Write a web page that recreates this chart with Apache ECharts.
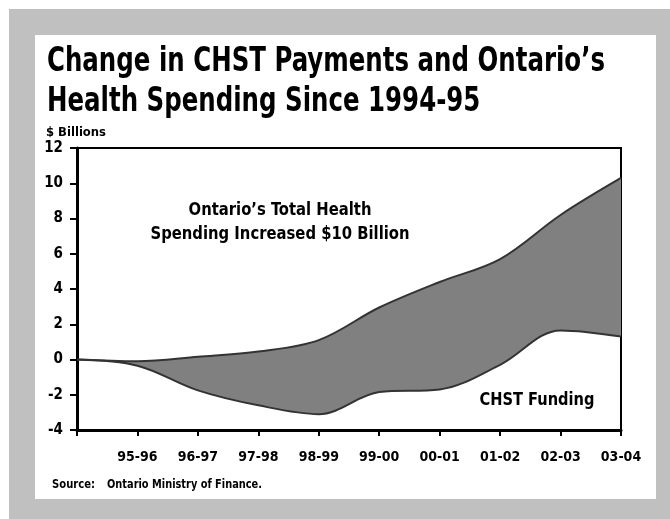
<!DOCTYPE html>
<html>
<head>
<meta charset="utf-8">
<script src="https://cdn.jsdelivr.net/npm/echarts@6/dist/echarts.min.js"></script>
<style>
  html, body { margin: 0; padding: 0; background: #ffffff; }
  #chart { width: 670px; height: 519px; }
</style>
</head>
<body>
<div id="chart"></div>
<script>
var categories = ['94-95', '95-96', '96-97', '97-98', '98-99', '99-00', '00-01', '01-02', '02-03', '03-04'];
var totalHealthChange = [0, -0.1, 0.15, 0.45, 1.1, 2.95, 4.4, 5.7, 8.2, 10.3];
var chstChange = [0, -0.35, -1.75, -2.6, -3.1, -1.85, -1.7, -0.3, 1.65, 1.3];
var yTicks = { min: -4, max: 12, interval: 2 };

var FONT = "'DejaVu Sans Condensed', 'Liberation Sans Narrow', sans-serif";
var gap = totalHealthChange.map(function (v, i) { return +(v - chstChange[i]).toFixed(3); });

var measureCtx = document.createElement('canvas').getContext('2d');
function fitScale(text, font, targetWidth) {
  measureCtx.font = font;
  var w = 0;
  text.split('\n').forEach(function (line) { w = Math.max(w, measureCtx.measureText(line).width); });
  return w > 0 ? targetWidth / w : 1;
}
function fittedText(text, font, targetWidth, x, y, extra) {
  var s = fitScale(text, font, targetWidth);
  var style = { text: text, font: font, fill: '#000' };
  if (extra) { for (var k in extra) style[k] = extra[k]; }
  return { type: 'text', x: x, y: y, scaleX: s, scaleY: 1, style: style };
}

var titleText = 'Change in CHST Payments and Ontario\u2019s\nHealth Spending Since 1994-95';
var titleFont = 'bold 34px ' + FONT;
var noteText = 'Ontario\u2019s Total Health\nSpending Increased $10 Billion';
var noteFont = 'bold 18px ' + FONT;
var smallFont = 'bold 12px ' + FONT;

var chart = echarts.init(document.getElementById('chart'), null, { renderer: 'canvas' });
chart.setOption({
  animation: false,
  backgroundColor: '#ffffff',
  graphic: [
    { type: 'rect', z: -10, shape: { x: 9, y: 9, width: 661, height: 510 }, style: { fill: '#c0c0c0' } },
    { type: 'rect', z: -9, shape: { x: 35, y: 35, width: 621, height: 464 }, style: { fill: '#ffffff' } },
    fittedText(titleText, titleFont, 558, 47, 42, { lineHeight: 40, verticalAlign: 'top' }),
    fittedText('$ Billions', smallFont, 60, 46, 127, { verticalAlign: 'top' }),
    fittedText('Source:', smallFont, 43, 52, 479, { verticalAlign: 'top' }),
    fittedText('Ontario Ministry of Finance.', smallFont, 155, 107, 479, { verticalAlign: 'top' }),
    fittedText(noteText, noteFont, 259, 280, 198, { lineHeight: 24, align: 'center', verticalAlign: 'top' }),
    fittedText('CHST Funding', noteFont, 115, 537, 391, { align: 'center', verticalAlign: 'top' })
  ],
  grid: { left: 77, top: 148, right: 49, bottom: 89, show: true, borderColor: '#000', borderWidth: 2, backgroundColor: 'transparent' },
  xAxis: {
    type: 'category',
    data: categories,
    boundaryGap: false,
    axisLine: { onZero: false, lineStyle: { color: '#000', width: 3 } },
    axisTick: { show: true, interval: 0, length: 6, lineStyle: { color: '#000', width: 2 } },
    axisLabel: {
      interval: 0, margin: 20, color: '#000', fontWeight: 'bold', fontSize: 14, fontFamily: FONT,
      formatter: function (v, i) { return i === 0 ? '' : v; }
    },
    splitLine: { show: false }
  },
  yAxis: {
    type: 'value',
    min: yTicks.min, max: yTicks.max, interval: yTicks.interval,
    axisLine: { show: true, lineStyle: { color: '#000', width: 3 } },
    axisTick: { show: true, length: 7, lineStyle: { color: '#000', width: 2 } },
    axisLabel: { margin: 14, color: '#000', fontWeight: 'bold', fontSize: 15, fontFamily: FONT },
    splitLine: { show: false }
  },
  series: [
    {
      name: 'CHST Funding', type: 'line', data: chstChange, stack: 'band', stackStrategy: 'all',
      smooth: 0.35, symbol: 'none', z: 4,
      lineStyle: { color: '#333', width: 2 }
    },
    {
      name: 'Total Health Spending', type: 'line', data: gap, stack: 'band', stackStrategy: 'all',
      smooth: 0.35, symbol: 'none', z: 3,
      lineStyle: { color: '#333', width: 2 },
      areaStyle: { color: '#808080', opacity: 1 }
    }
  ]
});
</script>
</body>
</html>
